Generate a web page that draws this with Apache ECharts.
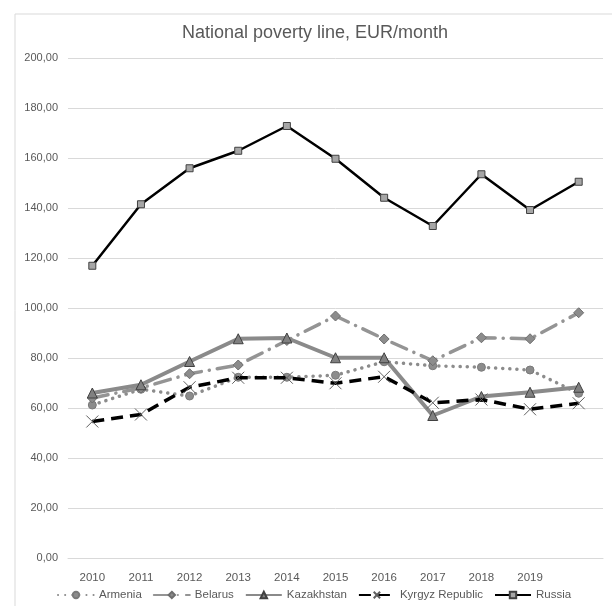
<!DOCTYPE html>
<html>
<head>
<meta charset="utf-8">
<script src="https://cdn.jsdelivr.net/npm/echarts@6/dist/echarts.min.js"></script>
<style>
html,body{margin:0;padding:0;background:#fff;}
#c{width:612px;height:606px;}
</style>
</head>
<body>
<div id="c"></div>
<script>
var years = ['2010','2011','2012','2013','2014','2015','2016','2017','2018','2019',''];
var armenia    = [61.2, 67.5, 64.8, 72.3, 72.3, 73.1, 78.5, 76.9, 76.3, 75.2, 65.9];
var belarus    = [64.0, 68.0, 73.7, 77.2, 87.0, 96.8, 87.6, 78.9, 88.1, 87.7, 98.1];
var kazakhstan = [66.0, 69.3, 78.6, 87.7, 88.0, 80.1, 80.1, 57.0, 64.6, 66.3, 68.3];
var kyrgyz     = [54.6, 57.4, 68.3, 72.1, 72.1, 69.9, 72.5, 62.1, 63.4, 59.5, 61.9];
var russia     = [116.9, 141.5, 155.9, 162.9, 172.8, 159.7, 144.1, 132.8, 153.5, 139.2, 150.5];
var yTicks = {min: 0, max: 200, interval: 20};

var chart = echarts.init(document.getElementById('c'), null, {renderer: 'canvas'});
var xSym = 'path://M0,0L10,10M10,0L0,10';
var FONT = 'Liberation Sans, Arial, sans-serif';
chart.setOption({
  animation: false,
  backgroundColor: '#fff',
  textStyle: {fontFamily: FONT},
  graphic: [{
    type: 'rect', left: 12.5, top: 11.5,
    shape: {width: 640, height: 640},
    style: {fill: 'none', stroke: '#d9d9d9', lineWidth: 1},
    silent: true, z: -1
  }],
  title: {
    text: 'National poverty line, EUR/month',
    left: 182, top: 24, padding: 0,
    textStyle: {fontSize: 18, fontWeight: 'normal', color: '#595959', fontFamily: FONT}
  },
  grid: {left: 68, right: 9, top: 58, bottom: 48, containLabel: false},
  legend: {
    bottom: 5, left: 57, padding: 0,
    itemWidth: 36, itemHeight: 8, itemGap: 11,
    textStyle: {fontSize: 11.5, color: '#595959', fontFamily: FONT},
    data: ['Armenia','Belarus','Kazakhstan','Kyrgyz Republic','Russia']
  },
  xAxis: {
    type: 'category', data: years, boundaryGap: true,
    axisLine: {show: true, lineStyle: {color: '#d9d9d9'}},
    axisTick: {show: false},
    axisLabel: {color: '#595959', fontSize: 11.5, margin: 14, interval: 0}
  },
  yAxis: {
    type: 'value', min: yTicks.min, max: yTicks.max, interval: yTicks.interval,
    axisLine: {show: false}, axisTick: {show: false},
    splitLine: {lineStyle: {color: '#d9d9d9'}},
    axisLabel: {color: '#595959', fontSize: 11, margin: 10,
      formatter: function(v){ return v.toFixed(2).replace('.', ','); }}
  },
  series: [
    {name: 'Armenia', type: 'line', data: armenia, symbol: 'circle', symbolSize: 8,
      lineStyle: {color: '#8c8c8c', width: 3.5, type: [0.1, 7], cap: 'round'},
      itemStyle: {color: '#8c8c8c', borderColor: '#7a7a7a', borderWidth: 1}, z: 2},
    {name: 'Belarus', type: 'line', data: belarus, symbol: 'diamond', symbolSize: 10,
      lineStyle: {color: '#949494', width: 3.5, type: [16, 8, 0.1, 8], cap: 'round'},
      itemStyle: {color: '#8c8c8c', borderColor: '#6e6e6e', borderWidth: 1}, z: 3},
    {name: 'Kazakhstan', type: 'line', data: kazakhstan, symbol: 'triangle', symbolSize: 10,
      lineStyle: {color: '#8a8a8a', width: 4},
      itemStyle: {color: '#808080', borderColor: '#404040', borderWidth: 1}, z: 4},
    {name: 'Kyrgyz Republic', type: 'line', data: kyrgyz, symbol: xSym, symbolSize: 12,
      lineStyle: {color: '#000', width: 3.5, type: [12, 7]},
      itemStyle: {color: 'rgba(0,0,0,0)', borderColor: '#606060', borderWidth: 1}, z: 5},
    {name: 'Russia', type: 'line', data: russia, symbol: 'rect', symbolSize: 7,
      lineStyle: {color: '#000', width: 2.5},
      itemStyle: {color: '#a6a6a6', borderColor: '#404040', borderWidth: 1}, z: 6}
  ]
});
</script>
</body>
</html>
